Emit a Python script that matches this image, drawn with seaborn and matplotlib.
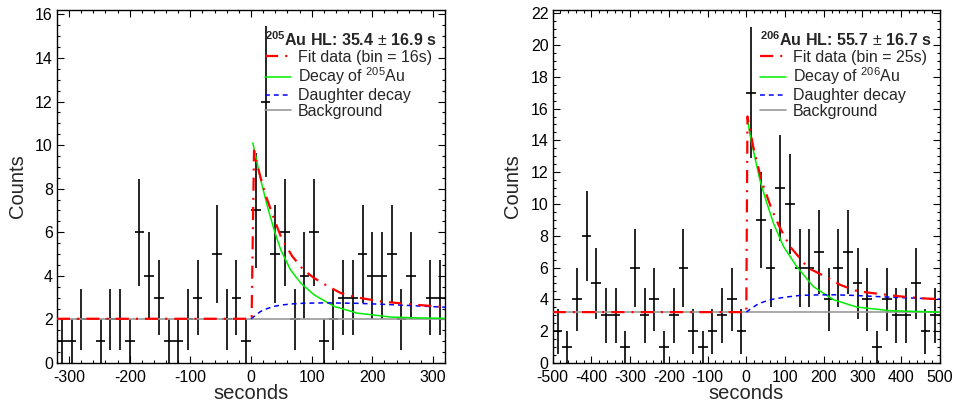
import numpy as np
import pandas as pd
import seaborn as sns
import matplotlib
matplotlib.use('Agg')
from matplotlib import pyplot as plt
from matplotlib.ticker import MultipleLocator

# --- 205Au panel, bin = 16 s, range -320..320 ---
au205_bin = 16
au205_range = (-320, 320)
au205_counts = [1, 1, 2, 0, 1, 2, 2, 1, 6, 4, 3, 1, 1, 2, 3, 0, 5, 2, 3, 1,
                7, 12, 5, 6, 2, 4, 6, 1, 2, 3, 3, 5, 4, 4, 5, 2, 4, 0, 3, 3]
au205_bkg = 2.03
au205_fit_t = [-320, 1, 5, 11, 19, 26, 38, 50, 68, 87, 104, 125, 148, 175, 213, 268, 320]
au205_fit_v = [2.03, 2.03, 9.75, 9.02, 8.18, 7.56, 6.62, 5.75, 4.9, 4.26, 3.9, 3.55, 3.21, 3.01, 2.83, 2.68, 2.57]
au205_decay_t = [3, 10, 16, 27, 38, 49, 65, 82, 104, 137, 175, 230, 275, 320]
au205_decay_v = [10.1, 9.2, 8.41, 7.19, 6.12, 5.2, 4.28, 3.67, 3.13, 2.6, 2.29, 2.11, 2.07, 2.05]
au205_daughter_t = [0, 8, 16, 27, 38, 50, 66, 85, 120, 175, 230, 275, 320]
au205_daughter_v = [2.03, 2.2, 2.37, 2.5, 2.6, 2.66, 2.71, 2.74, 2.76, 2.74, 2.68, 2.62, 2.56]

# --- 206Au panel, bin = 25 s, range -500..500 ---
au206_bin = 25
au206_range = (-500, 500)
au206_counts = [2, 1, 4, 8, 5, 3, 3, 1, 6, 3, 4, 1, 3, 6, 2, 1, 2, 3, 4, 2,
                17, 9, 6, 11, 10, 6, 6, 7, 4, 6, 7, 5, 4, 1, 4, 3, 3, 5, 2, 3]
au206_bkg = 3.2
au206_fit_t = [-500, 0, 3, 18, 40, 66, 85, 112, 160, 212, 242, 281, 311, 397, 466, 500]
au206_fit_v = [3.2, 3.2, 15.5, 13.6, 11.4, 9.64, 8.6, 7.35, 5.97, 5.34, 4.92, 4.56, 4.44, 4.19, 4.05, 4.02]
au206_decay_t = [3, 10, 18, 35, 53, 70, 96, 130, 173, 225, 285, 371, 500]
au206_decay_v = [15.4, 14.3, 13.4, 11.52, 10.06, 8.8, 7.33, 6.07, 4.81, 3.98, 3.52, 3.29, 3.2]
au206_daughter_t = [0, 10, 27, 45, 70, 100, 139, 180, 225, 280, 328, 400, 500]
au206_daughter_v = [3.2, 3.38, 3.66, 3.85, 4.02, 4.14, 4.25, 4.28, 4.29, 4.25, 4.19, 4.11, 4.02]

sns.set_theme(style='ticks')
plt.rcParams['font.family'] = ['Liberation Sans', 'DejaVu Sans']
plt.rcParams['mathtext.fontset'] = 'custom'
plt.rcParams['mathtext.rm'] = 'Liberation Sans'
plt.rcParams['mathtext.it'] = 'Liberation Sans:italic'
plt.rcParams['mathtext.bf'] = 'Liberation Sans:bold'
plt.rcParams['axes.unicode_minus'] = False

fig = plt.figure(figsize=(9.56, 4.05), dpi=100)


def draw_panel(ax, counts, bin_w, xrange, bkg, fit, decay, daughter, iso, ymax, binlab):
    centers = np.arange(xrange[0], xrange[1], bin_w) + bin_w / 2
    df = pd.DataFrame({'t': centers, 'n': counts})
    df = df[df.n > 0]
    ax.errorbar(df.t, df.n, xerr=bin_w / 2, yerr=np.sqrt(df.n), fmt='none',
                ecolor='black', elinewidth=1.2, capsize=0, zorder=2)

    sns.lineplot(x=list(xrange), y=[bkg, bkg], ax=ax, color='#9a9a9a', lw=1.2, zorder=3)
    sns.lineplot(x=decay[0], y=decay[1], ax=ax, color='#00ee00', lw=1.1, zorder=4)
    sns.lineplot(x=daughter[0], y=daughter[1], ax=ax, color='#0000ff', lw=1.1,
                 linestyle=(0, (3.2, 2.6)), zorder=4)
    sns.lineplot(x=fit[0], y=fit[1], ax=ax, color='#ff0000', lw=1.6,
                 linestyle=(0, (5.9, 3.2, 0.9, 3.2)), zorder=5)
    lines = ax.get_lines()
    handles = [lines[3], lines[1], lines[2], lines[0]]
    labels = ['Fit data (bin = %s)' % binlab, 'Decay of $^{%s}$Au' % iso[0],
              'Daughter decay', 'Background']
    ax.legend(handles, labels, loc='upper right', bbox_to_anchor=(1.0, 0.965),
              frameon=False, fontsize=11.5, borderaxespad=0.2, borderpad=0.3,
              labelspacing=0.05, handlelength=1.6, handletextpad=0.45,
              title=r'$^{\mathbf{%s}}$Au HL: %s$\,\pm\,$%s s' % iso,
              title_fontproperties={'weight': 'bold', 'size': 11.5},
              alignment='left')

    ax.set_xlim(*xrange)
    ax.set_ylim(0, ymax)
    ax.xaxis.set_major_locator(MultipleLocator(100))
    ax.xaxis.set_minor_locator(MultipleLocator(20))
    ax.yaxis.set_major_locator(MultipleLocator(2))
    ax.yaxis.set_minor_locator(MultipleLocator(0.5))
    ax.tick_params(which='both', direction='in', top=True, right=True,
                   labelsize=11.5, width=0.8, colors='black', pad=3)
    ax.tick_params(axis='x', which='major', pad=5)
    ax.tick_params(which='major', length=5)
    ax.tick_params(which='minor', length=2.5)
    for s in ax.spines.values():
        s.set_linewidth(1.0)
        s.set_color('black')
    ax.set_xlabel('seconds', fontsize=14.5, labelpad=-1)
    ax.set_ylabel('Counts', fontsize=14.5, labelpad=6)


ax1 = fig.add_axes([0.0596, 0.1037, 0.4059, 0.8716])
draw_panel(ax1, au205_counts, au205_bin, au205_range, au205_bkg,
           (au205_fit_t, au205_fit_v), (au205_decay_t, au205_decay_v),
           (au205_daughter_t, au205_daughter_v), ('205', '35.4', '16.9'), 16.2, '16s')

ax2 = fig.add_axes([0.5781, 0.1037, 0.4051, 0.8716])
draw_panel(ax2, au206_counts, au206_bin, au206_range, au206_bkg,
           (au206_fit_t, au206_fit_v), (au206_decay_t, au206_decay_v),
           (au206_daughter_t, au206_daughter_v), ('206', '55.7', '16.7'), 22.2, '25s')

fig.savefig('out.png', dpi=100)
